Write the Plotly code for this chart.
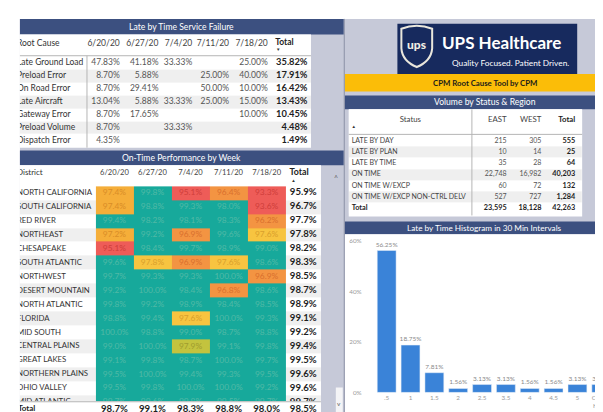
import plotly.graph_objects as go

W, H = 603, 412
FONT = "Lato"

# ---------------- data ----------------
root_causes = ["Late Ground Load", "Preload Error", "On Road Error", "Late Aircraft",
               "Gateway Error", "Preload Volume", "Dispatch Error"]
weeks = ["6/20/20", "6/27/20", "7/4/20", "7/11/20", "7/18/20"]
failure_pct = [
    [47.83, 41.18, 33.33, None, 25.00],
    [8.70, 5.88, None, 25.00, 40.00],
    [8.70, 29.41, None, 50.00, 10.00],
    [13.04, 5.88, 33.33, 25.00, 15.00],
    [8.70, 17.65, None, None, 10.00],
    [8.70, None, 33.33, None, None],
    [4.35, None, None, None, None],
]
failure_total = [35.82, 17.91, 16.42, 13.43, 10.45, 4.48, 1.49]

districts = ["NORTH CALIFORNIA", "SOUTH CALIFORNIA", "RED RIVER", "NORTHEAST", "CHESAPEAKE",
             "SOUTH ATLANTIC", "NORTHWEST", "DESERT MOUNTAIN", "NORTH ATLANTIC", "FLORIDA",
             "MID SOUTH", "CENTRAL PLAINS", "GREAT LAKES", "NORTHERN PLAINS", "OHIO VALLEY",
             "MID ATLANTIC"]
otp = [
    [97.4, 99.8, 95.1, 96.4, 93.3],
    [97.4, 98.8, 99.3, 98.0, 93.6],
    [99.4, 98.2, 98.1, 98.3, 96.2],
    [97.2, 99.2, 96.9, 99.6, 97.6],
    [95.1, 98.4, 99.7, 98.9, 99.0],
    [99.6, 97.8, 96.9, 97.6, 98.6],
    [99.7, 99.3, 99.3, 100.0, 96.9],
    [99.2, 100.0, 98.4, 96.8, 98.6],
    [99.8, 99.2, 98.9, 98.4, 98.5],
    [98.8, 99.4, 97.6, 100.0, 99.3],
    [100.0, 98.8, 99.0, 98.7, 98.8],
    [99.0, 100.0, 97.9, 99.1, 99.8],
    [99.1, 99.8, 98.7, 100.0, 99.7],
    [99.5, 100.0, 99.4, 99.3, 99.5],
    [99.5, 99.8, 100.0, 100.0, 99.2],
    [99.7, 99.6, 99.8, 99.5, 99.7],
]
otp_total = [95.9, 96.7, 97.7, 97.8, 98.2, 98.3, 98.5, 98.7, 98.9, 99.1, 99.2, 99.4,
             99.5, 99.6, 99.6, 99.7]
otp_week_total = [98.7, 99.1, 98.3, 98.8, 98.0]
otp_grand_total = 98.5

statuses = ["LATE BY DAY", "LATE BY PLAN", "LATE BY TIME", "ON TIME", "ON TIME W/EXCP",
            "ON TIME W/EXCP NON-CTRL DELV"]
vol_east = [215, 10, 35, 22748, 60, 527]
vol_west = [305, 14, 28, 16982, 72, 727]
vol_total = [555, 25, 64, 40203, 132, 1284]
vol_sum = [23595, 18128, 42263]

hist_bins = [".5", "1", "1.5", "2", "2.5", "3.5", "4", "4.5", "5", "Over 5<br>Hours"]
hist_pct = [56.25, 18.75, 7.81, 1.56, 3.13, 3.13, 1.56, 1.56, 3.13, 3.13]

# ---------------- styles ----------------
PALETTE = ["#ffffff", "#efefef", "#17a99b", "#c3c33e", "#f7c440", "#f5ae39", "#f39442", "#ee5c58"]
TEXT_ON = ["#444444", "#444444", "#52b9a6", "#a09d2e", "#d9a02c", "#d98d27", "#d9702e", "#cf3e3b"]
WHITE, GRAY, TEAL, YGREEN, YELLOW, OYELLOW, ORANGE, RED = range(8)
NC = len(PALETTE)
CS = []
for i, c in enumerate(PALETTE):
    CS += [[i / NC, c], [(i + 1) / NC, c]]

BAR_BLUE = "#3a83d8"
HDR_BLUE = "#3c5080"
BG = "#c6c9d8"


def otp_level(v):
    if v >= 98.0:
        return TEAL
    if v >= 97.85:
        return YGREEN
    if v >= 97.5:
        return YELLOW
    if v >= 97.0:
        return OYELLOW
    if v >= 96.0:
        return ORANGE
    return RED


def alt(i):
    return WHITE if i % 2 == 0 else GRAY


def px(x):
    return x / W


def py(y):
    return 1 - y / H


fig = go.Figure()
axes = {}


def subplot(k, x0, x1, y0, y1):
    s = "" if k == 1 else str(k)
    axes["xaxis" + s] = dict(domain=[px(x0), px(x1)], range=[x0, x1], visible=False,
                             fixedrange=True, anchor="y" + s)
    axes["yaxis" + s] = dict(domain=[py(y1), py(y0)], range=[y1, y0], visible=False,
                             fixedrange=True, anchor="x" + s)
    return "x" + s, "y" + s


def grid(xa, ya, x_edges, y_edges, levels):
    fig.add_trace(go.Heatmap(x=x_edges, y=y_edges,
                             z=[[l + 0.5 for l in row] for row in levels],
                             colorscale=CS, zmin=0, zmax=NC, showscale=False,
                             hoverinfo="skip", xaxis=xa, yaxis=ya))


class Texts:
    def __init__(self):
        self.x, self.y, self.t, self.p, self.c, self.s = [], [], [], [], [], []

    def add(self, x, y, t, p, c, s):
        self.x.append(x); self.y.append(y); self.t.append(t)
        self.p.append(p); self.c.append(c); self.s.append(s)

    def draw(self, xa, ya):
        fig.add_trace(go.Scatter(x=self.x, y=self.y, text=self.t, mode="text",
                                 textposition=self.p,
                                 textfont=dict(family=FONT, color=self.c, size=self.s),
                                 hoverinfo="skip", showlegend=False, cliponaxis=True,
                                 xaxis=xa, yaxis=ya))


# ---------------- panel 1: Late by Time Service Failure ----------------
P1_COLS = [12, 80, 116, 155, 189, 226, 265, 305]
P1_TOP, P1_HB, P1_ROW = 23, 45, 13.2
xa, ya = subplot(1, 12, 305, 23, 138)
ye = [P1_TOP, P1_HB] + [P1_HB + P1_ROW * (i + 1) for i in range(len(root_causes))]
grid(xa, ya, P1_COLS, ye, [[WHITE] * 7] + [[alt(i)] * 7 for i in range(len(root_causes))])
t = Texts()
hy = P1_TOP + 9
t.add(P1_COLS[0] - 3, hy, "Root Cause", "middle right", "#333333", 8.5)
for j, w in enumerate(weeks):
    t.add(P1_COLS[j + 2] - 3.5, hy, w, "middle left", "#444444", 8.5)
t.add(P1_COLS[6] + 4, hy - 1, "<b>Total</b>", "middle right", "#222222", 8.5)
t.add(P1_COLS[6] + 7, hy + 7, "▼", "middle center", "#333333", 4.5)
for i, rc in enumerate(root_causes):
    cy = P1_HB + P1_ROW * (i + 0.5)
    t.add(P1_COLS[0] - 3, cy, rc, "middle right", "#333333", 8.5)
    for j in range(len(weeks)):
        v = failure_pct[i][j]
        if v is not None:
            t.add(P1_COLS[j + 2] - 3.5, cy, f"{v:.2f}%", "middle left", "#555555", 8.5)
    t.add(P1_COLS[7] - 3.5, cy, f"<b>{failure_total[i]:.2f}%</b>", "middle left", "#1e1e1e", 9.3)
t.draw(xa, ya)

# ---------------- panel 2: On-Time Performance by Week ----------------
P2_COLS = [12, 88, 126.3, 164.6, 202.9, 241.2, 279.5, 315]
P2_TOP, P2_HB, P2_ROW = 156, 177, 14.2
xa, ya = subplot(2, 12, 315, 156, 396)
ye = [P2_TOP, P2_HB] + [P2_HB + P2_ROW * (i + 1) for i in range(len(districts))]
levels = [[WHITE] * 7]
for i in range(len(districts)):
    levels.append([alt(i)] + [otp_level(v) for v in otp[i]] + [alt(i)])
grid(xa, ya, P2_COLS, ye, levels)
t = Texts()
hy = P2_TOP + 8
t.add(P2_COLS[0] - 3, hy, "District", "middle right", "#333333", 8)
for j, w in enumerate(weeks):
    t.add((P2_COLS[j + 1] + P2_COLS[j + 2]) / 2, hy, w, "middle center", "#444444", 7.6)
t.add(P2_COLS[6] + 4, hy, "<b>Total</b>", "middle right", "#222222", 8.8)
t.add(P2_COLS[6] + 8, hy + 8, "▲", "middle center", "#333333", 4.5)
for i, d in enumerate(districts):
    cy = P2_HB + P2_ROW * (i + 0.5)
    t.add(P2_COLS[0] - 3, cy, d, "middle right", "#333333", 7.8)
    for j in range(len(weeks)):
        v = otp[i][j]
        t.add((P2_COLS[j + 1] + P2_COLS[j + 2]) / 2, cy, f"{v:.1f}%", "middle center",
              TEXT_ON[otp_level(v)], 8.4)
    t.add((P2_COLS[6] + P2_COLS[7]) / 2, cy, f"<b>{otp_total[i]:.1f}%</b>", "middle center",
          "#1e1e1e", 9.6)
t.draw(xa, ya)

# total row
xa, ya = subplot(3, 12, 315, 396, 412)
grid(xa, ya, P2_COLS, [396, 412], [[WHITE] * 7])
t = Texts()
cy = 404
t.add(P2_COLS[0] - 2, cy, "<b>Total</b>", "middle right", "#222222", 8)
for j in range(len(weeks)):
    t.add((P2_COLS[j + 1] + P2_COLS[j + 2]) / 2, cy, f"<b>{otp_week_total[j]:.1f}%</b>",
          "middle center", "#1e1e1e", 9.6)
t.add((P2_COLS[6] + P2_COLS[7]) / 2, cy, f"<b>{otp_grand_total:.1f}%</b>", "middle center",
      "#1e1e1e", 9.6)
t.draw(xa, ya)

# ---------------- panel 3: Volume by Status & Region ----------------
P4_COLS = [343, 467, 505, 540, 578]
P4_TOP, P4_HB, P4_ROW = 99, 125.5, 11.4
xa, ya = subplot(4, 343, 578, 99, 207)
nrows = len(statuses) + 1
ye = [P4_TOP, P4_HB] + [P4_HB + P4_ROW * (i + 1) for i in range(nrows)]
grid(xa, ya, P4_COLS, ye, [[WHITE] * 4] + [[alt(i)] * 4 for i in range(nrows)])
t = Texts()
hy = P4_TOP + 11
t.add((P4_COLS[0] + P4_COLS[1]) / 2, hy, "Status", "middle center", "#444444", 7.8)
t.add(P4_COLS[0] + 5, hy + 7, "▲", "middle center", "#333333", 4.5)
t.add(P4_COLS[2] - 3, hy, "EAST", "middle left", "#444444", 7.8)
t.add(P4_COLS[3] - 3, hy, "WEST", "middle left", "#444444", 7.8)
t.add(P4_COLS[4] - 7, hy, "<b>Total</b>", "middle left", "#222222", 7.8)
for i, s in enumerate(statuses):
    cy = P4_HB + P4_ROW * (i + 0.5)
    t.add(P4_COLS[0] + 3, cy, s, "middle right", "#444444", 7)
    t.add(P4_COLS[2] - 3, cy, f"{vol_east[i]:,}", "middle left", "#555555", 7)
    t.add(P4_COLS[3] - 3, cy, f"{vol_west[i]:,}", "middle left", "#555555", 7)
    t.add(P4_COLS[4] - 7, cy, f"<b>{vol_total[i]:,}</b>", "middle left", "#1e1e1e", 7.3)
cy = P4_HB + P4_ROW * (len(statuses) + 0.5)
t.add(P4_COLS[0] + 3, cy, "<b>Total</b>", "middle right", "#1e1e1e", 7.3)
for j, v in enumerate(vol_sum):
    t.add(P4_COLS[j + 2] - (7 if j == 2 else 3), cy, f"<b>{v:,}</b>", "middle left", "#1e1e1e", 7.3)
t.draw(xa, ya)

# ---------------- panel 4: histogram ----------------
fig.add_trace(go.Bar(x=hist_bins, y=hist_pct, marker_color=BAR_BLUE,
                     texttemplate="%{y:.2f}%", textposition="outside", constraintext="none",
                     textfont=dict(family=FONT, size=6.5, color="#8a8a8a"), cliponaxis=False,
                     hoverinfo="skip", showlegend=False, xaxis="x5", yaxis="y5"))
axes["xaxis5"] = dict(domain=[px(357), 1], range=[-1.008, 9.24], type="category",
                      showgrid=False, showline=False, zeroline=False, ticks="",
                      tickfont=dict(family=FONT, size=6.3, color="#9a9a9a"),
                      anchor="y5", fixedrange=True)
axes["yaxis5"] = dict(domain=[py(387), py(233)], range=[0, 60], dtick=20, ticksuffix="%",
                      showgrid=False, zeroline=False, showline=False, ticks="",
                      tickfont=dict(family=FONT, size=6.3, color="#9a9a9a"),
                      anchor="x5", fixedrange=True)

# ---------------- decorations ----------------
def rect(x0, y0, x1, y1, color, layer="below", line=None):
    d = dict(type="rect", xref="paper", yref="paper", x0=px(x0), x1=px(x1),
             y0=py(y1), y1=py(y0), fillcolor=color, layer=layer, line=dict(width=0))
    if line:
        d["line"] = line
    return d


def hline(x0, x1, y, color="#b5b5b5", width=1):
    return dict(type="line", xref="paper", yref="paper", x0=px(x0), x1=px(x1),
                y0=py(y), y1=py(y), line=dict(color=color, width=width), layer="above")


def vline(x, y0, y1, color="#b5b5b5", width=1):
    return dict(type="line", xref="paper", yref="paper", x0=px(x), x1=px(x),
                y0=py(y0), y1=py(y1), line=dict(color=color, width=width), layer="above")


def path(pts_cmds):
    out = ""
    for cmd, coords in pts_cmds:
        out += cmd
        out += " ".join(f"{px(a):.5f},{py(b):.5f}" for a, b in coords) + " "
    return out + "Z"


shapes = [
    rect(12, 7, 603, 412, BG),
    rect(12, 7, 338, 23, HDR_BLUE),
    rect(12, 23, 305, 138, "#ffffff"),
    rect(12, 141, 338, 156, HDR_BLUE),
    rect(12, 156, 315, 412, "#ffffff"),
    rect(392, 12, 573, 63, "#172a5e"),
    rect(339, 63, 603, 81, "#fbbd08"),
    rect(339, 85, 603, 99, HDR_BLUE),
    rect(343, 99, 578, 208, "#ffffff"),
    rect(339, 213, 603, 226, HDR_BLUE),
    rect(339, 226, 603, 409, "#ffffff"),
    rect(330, 382, 337, 408, "#f4f4f6"),
    vline(338.5, 7, 412, "#8b90a5"),
    hline(12, 305, 44.5),
    vline(79.5, 44.5, 138),
    hline(12, 315, 396.5),
    hline(343, 578, 124.5),
    vline(467, 99, 207),
    dict(type="path", xref="paper", yref="paper", layer="above",
         path=path([("M", [(396, 17)]), ("Q", [(411.5, 11), (427, 17)]), ("L", [(427, 37)]),
                    ("Q", [(426, 50), (411.5, 56)]), ("Q", [(397, 50), (396, 37)])]),
         fillcolor="#172a5e", line=dict(color="#e9e6dc", width=2)),
]


def ann(x, y, text, size, color="#ffffff", xanchor="center", weight="normal"):
    return dict(x=px(x), y=py(y), xref="paper", yref="paper", text=text, showarrow=False,
                xanchor=xanchor, yanchor="middle",
                font=dict(family=FONT, size=size, color=color, weight=weight))


annotations = [
    ann(175, 15, "Late by Time Service Failure", 8.6),
    ann(175, 148.5, "On-Time Performance by Week", 8.6),
    ann(480, 92, "Volume by Status &amp; Region", 8.6),
    ann(480, 219.5, "Late by Time Histogram in 30 Min Intervals", 8.2),
    ann(497, 31, "UPS Healthcare", 17, weight=700),
    ann(506, 52, "Quality Focused. Patient Driven.", 8.3),
    ann(411.5, 33, "ups", 12, color="#f1eee4", weight=900),
    ann(480, 72, "CPM Root Cause Tool by CPM", 7.8, color="#1a1a1a", weight=700),
    ann(330, 169, "^", 7, color="#666666"),
    ann(333.5, 398, "v", 6.5, color="#666666"),
]

fig.update_layout(
    width=W, height=H, margin=dict(l=0, r=0, t=0, b=0, pad=0),
    paper_bgcolor="#ffffff", plot_bgcolor="rgba(0,0,0,0)",
    showlegend=False, bargap=0.21,
    font=dict(family=FONT),
    shapes=shapes, annotations=annotations,
    **axes,
)

fig.write_html("out.html")
